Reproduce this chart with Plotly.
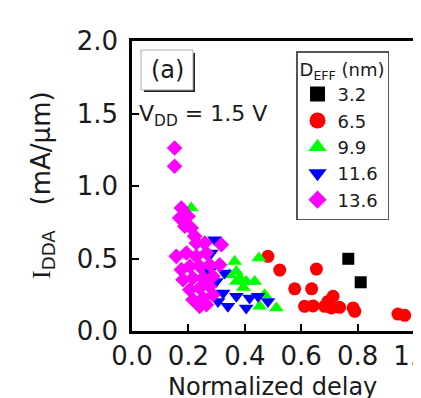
import plotly.graph_objects as go

# ---- data ----
legend_labels = ["3.2", "6.5", "9.9", "11.6", "13.6"]

x_32 = [0.767, 0.811]
y_32 = [0.498, 0.336]

x_65 = [0.482, 0.524, 0.654, 0.577, 0.637, 0.713, 0.695, 0.612, 0.642, 0.683, 0.707, 0.736, 0.784, 0.790, 0.943, 0.967]
y_65 = [0.515, 0.420, 0.427, 0.291, 0.291, 0.239, 0.204, 0.170, 0.173, 0.170, 0.159, 0.163, 0.159, 0.136, 0.117, 0.108]

x_99 = [0.210, 0.450, 0.364, 0.370, 0.382, 0.405, 0.435, 0.346, 0.370, 0.470, 0.453, 0.512, 0.395]
y_99 = [0.848, 0.503, 0.480, 0.411, 0.366, 0.342, 0.342, 0.388, 0.342, 0.250, 0.170, 0.159, 0.300]

x_116 = [0.293, 0.252, 0.281, 0.275, 0.328, 0.323, 0.370, 0.417, 0.447, 0.482, 0.305, 0.340, 0.405, 0.299]
y_116 = [0.630, 0.607, 0.538, 0.411, 0.400, 0.262, 0.239, 0.228, 0.239, 0.204, 0.204, 0.170, 0.159, 0.342]

x_136 = [0.151, 0.151, 0.175, 0.169, 0.199, 0.187, 0.210, 0.222, 0.228, 0.258, 0.317, 0.157, 0.193,
         0.228, 0.264, 0.175, 0.205, 0.240, 0.275, 0.311, 0.181, 0.216, 0.252, 0.287, 0.205, 0.240,
         0.275, 0.216, 0.252, 0.287, 0.240, 0.264]
y_136 = [1.262, 1.136, 0.848, 0.779, 0.791, 0.722, 0.710, 0.653, 0.607, 0.607, 0.595, 0.515, 0.538,
         0.515, 0.538, 0.423, 0.446, 0.446, 0.457, 0.457, 0.354, 0.366, 0.366, 0.377, 0.285, 0.297,
         0.308, 0.216, 0.228, 0.250, 0.170, 0.181]

x_ticks = [0.0, 0.2, 0.4, 0.6, 0.8, 1.0]
x_ticktext = ["0.0", "0.2", "0.4", "0.6", "0.8", "1.0"]
y_ticks = [0.0, 0.5, 1.0, 1.5, 2.0]
y_ticktext = ["0.0", "0.5", "1.0", "1.5", "2.0"]

series = [
    (legend_labels[0], x_32, y_32, "square", "#000000", 12),
    (legend_labels[1], x_65, y_65, "circle", "#ff0000", 13),
    (legend_labels[2], x_99, y_99, "triangle-up", "#00ff00", 13),
    (legend_labels[3], x_116, y_116, "triangle-down", "#0000ff", 13),
    (legend_labels[4], x_136, y_136, "diamond", "#ff00ff", 12),
]
legend_sizes = [15, 16, 16, 16, 14]

FONT = "DejaVu Sans"
TXT = "#1a1a1a"
W, H = 421, 398
L, R, T, B = 124, 15, 33, 75
PW, PH = W - L - R, H - T - B


def px(x):
    return (x - L) / PW


def py(y):
    return (H - B - y) / PH


fig = go.Figure()
# data marks (no legend entries)
for name, xs, ys, sym, col, sz in series:
    fig.add_trace(go.Scatter(
        x=xs, y=ys, mode="markers", name=name, showlegend=False, legendgroup=name,
        marker=dict(symbol=sym, color=col, size=sz, line=dict(width=0)),
    ))
# legend entries with larger symbols (no points drawn)
for (name, xs, ys, sym, col, sz), lsz in zip(series, legend_sizes):
    fig.add_trace(go.Scatter(
        x=[None], y=[None], mode="markers", name=name, legendgroup=name,
        marker=dict(symbol=sym, color=col, size=lsz, line=dict(width=0)),
    ))

axis_common = dict(
    showgrid=False, zeroline=False, showline=True, linecolor="black", linewidth=2.5,
    mirror=True, ticks="inside", ticklen=7, tickwidth=2, tickcolor="black",
    tickfont=dict(family=FONT, size=26, color=TXT), ticklabeloverflow="allow",
)

fig.update_layout(
    width=W, height=H,
    margin=dict(l=L, r=R, t=T, b=B, autoexpand=False),
    paper_bgcolor="white", plot_bgcolor="white",
    font=dict(family=FONT, color=TXT),
    xaxis=dict(range=[0, 1.0], tickvals=x_ticks, ticktext=x_ticktext, ticklabelstandoff=0, **axis_common),
    yaxis=dict(range=[0, 2.0], tickvals=y_ticks, ticktext=y_ticktext, ticklabelstandoff=6, **axis_common),
    showlegend=True,
    legend=dict(
        x=px(288), y=py(43), xanchor="left", yanchor="top",
        bgcolor="white", bordercolor="#555", borderwidth=1.5,
        font=dict(family=FONT, size=18, color=TXT),
        title=dict(text="D<sub>EFF</sub> (nm)", font=dict(family=FONT, size=18, color=TXT)),
        itemsizing="trace", tracegroupgap=0, groupclick="toggleitem",
    ),
    shapes=[
        dict(type="rect", xref="paper", yref="paper", x0=px(136), x1=px(187), y0=py(84), y1=py(45),
             fillcolor="#222", line=dict(width=0), layer="above"),
        dict(type="rect", xref="paper", yref="paper", x0=px(133), x1=px(185), y0=py(82), y1=py(42),
             fillcolor="white", line=dict(color="#aaa", width=1), layer="above"),
    ],
    annotations=[
        dict(text="(a)", x=px(159), y=py(62), xref="paper", yref="paper", showarrow=False,
             xanchor="center", yanchor="middle", font=dict(family=FONT, size=24, color=TXT)),
        dict(text="V<sub>DD</sub> = 1.5 V", x=px(129), y=py(108), xref="paper", yref="paper", showarrow=False,
             xanchor="left", yanchor="middle", font=dict(family=FONT, size=22, color=TXT)),
        dict(text="Normalized delay", x=px(264), y=py(379), xref="paper", yref="paper", showarrow=False,
             xanchor="center", yanchor="middle", font=dict(family=FONT, size=24, color=TXT)),
        dict(text="<span style='font-family:Liberation Serif'>I</span><sub>DDA</sub>   (mA/μm)",
             x=px(34), y=py(177), xref="paper", yref="paper", showarrow=False, textangle=-90,
             xanchor="center", yanchor="middle", font=dict(family=FONT, size=26, color=TXT)),
    ],
)

fig.write_html("out.html")
